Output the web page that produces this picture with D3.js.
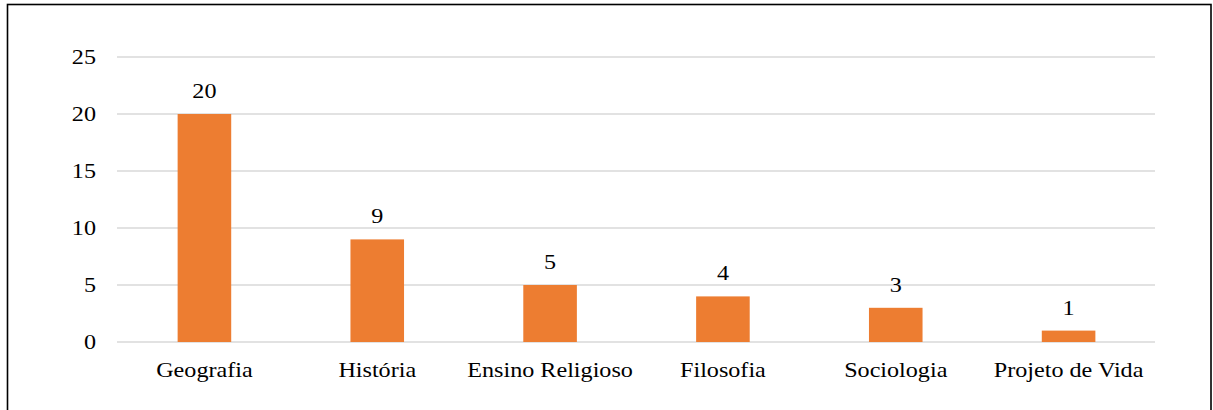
<!DOCTYPE html>
<html>
<head>
<meta charset="utf-8">
<script src="https://d3js.org/d3.v7.min.js"></script>
<style>
 body { margin: 0; background: #fff; }
</style>
</head>
<body>
<div id="chart"></div>
<script>
var categories = ["Geografia", "História", "Ensino Religioso", "Filosofia", "Sociologia", "Projeto de Vida"];
var values = [20, 9, 5, 4, 3, 1];
var yTicks = [0, 5, 10, 15, 20, 25];

var W = 1213, H = 410;
var margin = {top: 57, right: 58, bottom: 68, left: 117};
var stretch = 1.15, fs = 21;
var fontFam = "'Liberation Serif'";

var svg = d3.select("#chart").append("svg")
  .attr("width", W).attr("height", H);

// frame around the figure
svg.append("rect")
  .attr("x", 7.5).attr("y", 4.5)
  .attr("width", 1203.5).attr("height", 420)
  .attr("fill", "none").attr("stroke", "#000").attr("stroke-width", 1.6);

var x = d3.scaleBand().domain(categories)
  .range([margin.left + 1, W - margin.right]).paddingInner(0.69).paddingOuter(0.345);
var y = d3.scaleLinear().domain([0, 25]).range([H - margin.bottom, margin.top]);

var g = svg.append("g");

g.selectAll("line.grid").data(yTicks).enter().append("line")
  .attr("class", "grid")
  .attr("x1", margin.left).attr("x2", W - margin.right)
  .attr("y1", function(d){ return y(d); }).attr("y2", function(d){ return y(d); })
  .attr("stroke", "#d9d9d9").attr("stroke-width", 1.5);

// text is a bit wider than tall in the original, so stretch it sideways
function stext(sel, xf, yf) {
  return sel.attr("transform", function(d, i){ return "translate(" + xf(d, i) + "," + yf(d, i) + ") scale(" + stretch + ",1)"; })
    .attr("font-family", fontFam)
    .attr("font-size", fs)
    .attr("fill", "#000");
}

stext(g.selectAll("text.ytick").data(yTicks).enter().append("text").attr("class", "ytick"),
  function(){ return 96; }, function(d){ return y(d) + 7; })
  .attr("text-anchor", "end").text(function(d){ return d; });

g.selectAll("rect.bar").data(values).enter().append("rect")
  .attr("class", "bar")
  .attr("x", function(d, i){ return x(categories[i]); })
  .attr("width", x.bandwidth())
  .attr("y", function(d){ return y(d); })
  .attr("height", function(d){ return y(0) - y(d); })
  .attr("fill", "#ed7d31");

stext(g.selectAll("text.val").data(values).enter().append("text").attr("class", "val"),
  function(d, i){ return x(categories[i]) + x.bandwidth() / 2; }, function(d){ return y(d) - 16; })
  .attr("text-anchor", "middle").text(function(d){ return d; });

stext(g.selectAll("text.cat").data(categories).enter().append("text").attr("class", "cat"),
  function(d){ return x(d) + x.bandwidth() / 2; }, function(){ return 377; })
  .attr("text-anchor", "middle").text(function(d){ return d; });
</script>
</body>
</html>
